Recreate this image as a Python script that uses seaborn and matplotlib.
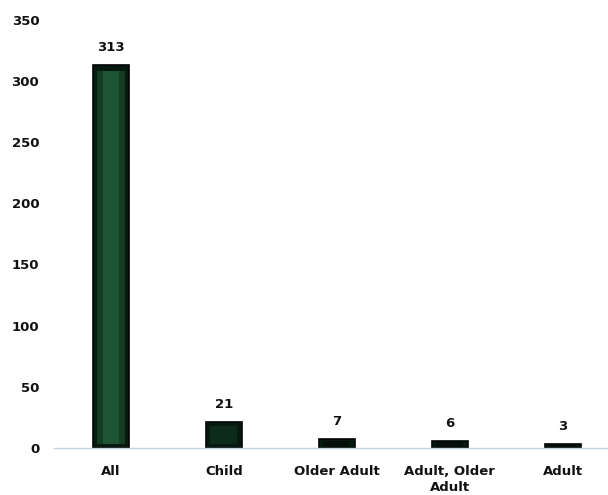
import matplotlib
matplotlib.use("Agg")
import matplotlib.pyplot as plt
import seaborn as sns
import pandas as pd

categories = ["All", "Child", "Older Adult", "Adult, Older\nAdult", "Adult"]
counts = [313, 21, 7, 6, 3]
y_ticks = [0, 50, 100, 150, 200, 250, 300, 350]

df = pd.DataFrame({"group": categories, "count": counts})

sns.set_theme(style="white")
plt.rcParams["font.family"] = ["DejaVu Sans"]

fig = plt.figure(figsize=(6.08, 4.95), dpi=100)
ax = fig.add_axes([0.0896, 0.095, 0.929, 0.865])

# outer dark bar with a lighter green core
sns.barplot(data=df, x="group", y="count", order=categories, color="#071a0f",
            width=0.32, edgecolor="#010503", linewidth=1.2, saturation=1, ax=ax)
sns.barplot(data=df, x="group", y="count", order=categories, color="#143d24",
            width=0.24, linewidth=0, saturation=1, ax=ax)
sns.barplot(data=df, x="group", y="count", order=categories, color="#1d5434",
            width=0.14, linewidth=0, saturation=1, ax=ax)

# shrink the cores so the top and bottom of each bar stay dark
n = len(categories)
for k, patch in enumerate(ax.patches[n:]):
    v = counts[k % n]
    h = patch.get_height()
    bottom = min(3.0, h * 0.15)
    top = min(5.0, h * 0.15)
    patch.set_y(bottom)
    patch.set_height(max(h - top - bottom, 0))
    if v < 30:
        patch.set_facecolor("#0c2b18" if v > 10 else "#050f09")

for i, v in enumerate(counts):
    ax.text(i, v + 9, str(v), ha="center", va="bottom",
            fontsize=9.5, fontweight="heavy", color="#111111")

ax.set_ylim(0, 350)
ax.set_xlim(-0.5, 4.5)
ax.set_yticks(y_ticks)
ax.set_yticklabels([str(t) for t in y_ticks], fontsize=9.5, fontweight="heavy", color="#111111")
ax.set_xticks(range(n))
ax.set_xticklabels(categories, fontsize=9.5, fontweight="heavy", color="#111111",
                   linespacing=1.3)
ax.tick_params(axis="y", length=0, pad=11)
ax.tick_params(axis="x", length=0, pad=12)
ax.set_xlabel("")
ax.set_ylabel("")

for side in ["top", "right", "left"]:
    ax.spines[side].set_visible(False)
ax.spines["bottom"].set_color("#c5d2e6")
ax.spines["bottom"].set_linewidth(1.0)
ax.grid(False)

fig.savefig("out.png", dpi=100, facecolor="white")
